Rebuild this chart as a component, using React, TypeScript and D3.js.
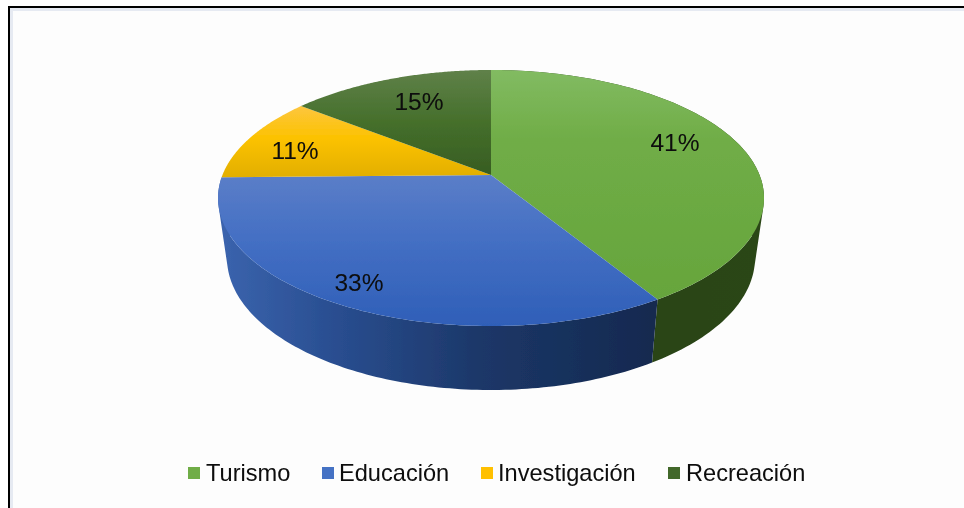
import React from "react";
import * as d3 from "d3";

const categories = ["Turismo", "Educación", "Investigación", "Recreación"];
const values = [41.2, 33.5, 10.9, 14.4];
const pctLabels = ["41%", "33%", "11%", "15%"];
const labelPos = [[675, 143], [359, 283], [295, 151], [419, 102]];
const topStops = [
  [["0%", "#82bb62"], ["30%", "#70ad47"], ["100%", "#66a53c"]],
  [["0%", "#5b7ec8"], ["40%", "#4570c4"], ["100%", "#2f5fb8"]],
  [["0%", "#fdc63f"], ["45%", "#fcc200"], ["100%", "#e2af00"]],
  [["0%", "#5f8149"], ["50%", "#456f2b"], ["100%", "#375d22"]],
];
const wallStops = [
  [["0%", "#2a4419"], ["100%", "#2c4619"]],
  [["0%", "#3b64ae"], ["25%", "#2a4f92"], ["60%", "#1c3768"], ["100%", "#13294f"]],
];
const legendColors = ["#70ad47", "#4472c4", "#ffc000", "#43682b"];
const legendSwatchX = [188, 322, 481, 668];
const legendTextX = [206, 339, 498, 686];

const CX = 491, TOP_CY = 198, TOP_RX = 273, TOP_RY = 128, BOT_RX = 264, BOT_CY = 258, BOT_RY = 132;
const A = -0.18;

function project(theta: number, cx: number, cy: number, rx: number, ry: number): [number, number] {
  const u = Math.sin(theta), v = -Math.cos(theta);
  const d = 1 + A * v;
  return [cx + (rx * u * Math.sqrt(1 - A * A)) / d, cy + (ry * (v + A)) / d];
}

const arcs = d3.pie<number>().sort(null)(values);
const line = d3.line();
const centre: [number, number] = [CX, TOP_CY + TOP_RY * A];

function samples(a0: number, a1: number) {
  return d3.range(0, 121).map((i) => a0 + ((a1 - a0) * i) / 120);
}
function topPath(a0: number, a1: number) {
  const pts = samples(a0, a1).map((t) => project(t, CX, TOP_CY, TOP_RX, TOP_RY));
  return line([centre, ...pts]) + "Z";
}
function wallPath(a0: number, a1: number) {
  const ts = samples(a0, a1);
  return d3.pairs(ts)
    .map(([s, e]) => {
      const quad: [number, number][] = [
        project(s, CX, TOP_CY, TOP_RX, TOP_RY),
        project(e, CX, TOP_CY, TOP_RX, TOP_RY),
        project(e, CX, BOT_CY, BOT_RX, BOT_RY),
        project(s, CX, BOT_CY, BOT_RX, BOT_RY),
      ];
      // every quad wound the same way, so overlapping quads never cancel out
      if (d3.polygonArea(quad) < 0) quad.reverse();
      return line(quad) + "Z";
    })
    .join("");
}

export default function App() {
  return (
    <svg width={964} height={508} style={{ position: "absolute", left: 0, top: 0 }}>
      <defs>
        <filter id="soft" x="-5%" y="-5%" width="110%" height="110%">
          <feGaussianBlur stdDeviation="0.45" />
        </filter>
        {topStops.map((stops, i) => (
          <linearGradient key={i} id={`top${i}`} gradientUnits="objectBoundingBox" x1="0" y1="0" x2="0" y2="1">
            {stops.map(([o, c]) => <stop key={o} offset={o} stopColor={c} />)}
          </linearGradient>
        ))}
        {wallStops.map((stops, i) => (
          <linearGradient key={i} id={`wall${i}`} gradientUnits="userSpaceOnUse" x1={i ? 219 : 650} y1="0" x2={i ? 657 : 764} y2="0">
            {stops.map(([o, c]) => <stop key={o} offset={o} stopColor={c} />)}
          </linearGradient>
        ))}
      </defs>
      <rect x={0} y={0} width={964} height={508} fill="#ffffff" />
      <rect x={10} y={8} width={954} height={500} fill="#fdfdfd" />
      <rect x={10} y={8} width={954} height={3} fill="#e6eaf2" />
      <rect x={10} y={8} width={3} height={500} fill="#e6eaf2" />
      <rect x={8} y={6} width={956} height={2} fill="#000000" />
      <rect x={8} y={6} width={2} height={502} fill="#000000" />
      <g filter="url(#soft)">
        <path d={wallPath(arcs[0].startAngle, arcs[0].endAngle)} fill="url(#wall0)" />
        <path d={wallPath(arcs[1].startAngle, arcs[1].endAngle)} fill="url(#wall1)" />
        {arcs.map((a, i) => (
          <path key={i} d={topPath(a.startAngle, a.endAngle)} fill={`url(#top${i})`} />
        ))}
      </g>
      <g filter="url(#soft)" fontFamily="'Liberation Sans', Arial, sans-serif" fill="#0a0a0a">
        {pctLabels.map((l, i) => (
          <text key={l} x={labelPos[i][0]} y={labelPos[i][1] - 1} textAnchor="middle" dominantBaseline="central" fontSize={24.5}>{l}</text>
        ))}
        {categories.map((c, i) => (
          <g key={c}>
            <rect x={legendSwatchX[i]} y={467} width={12} height={12} fill={legendColors[i]} />
            <text x={legendTextX[i]} y={481} fontSize={23.6}>{c}</text>
          </g>
        ))}
      </g>
    </svg>
  );
}
